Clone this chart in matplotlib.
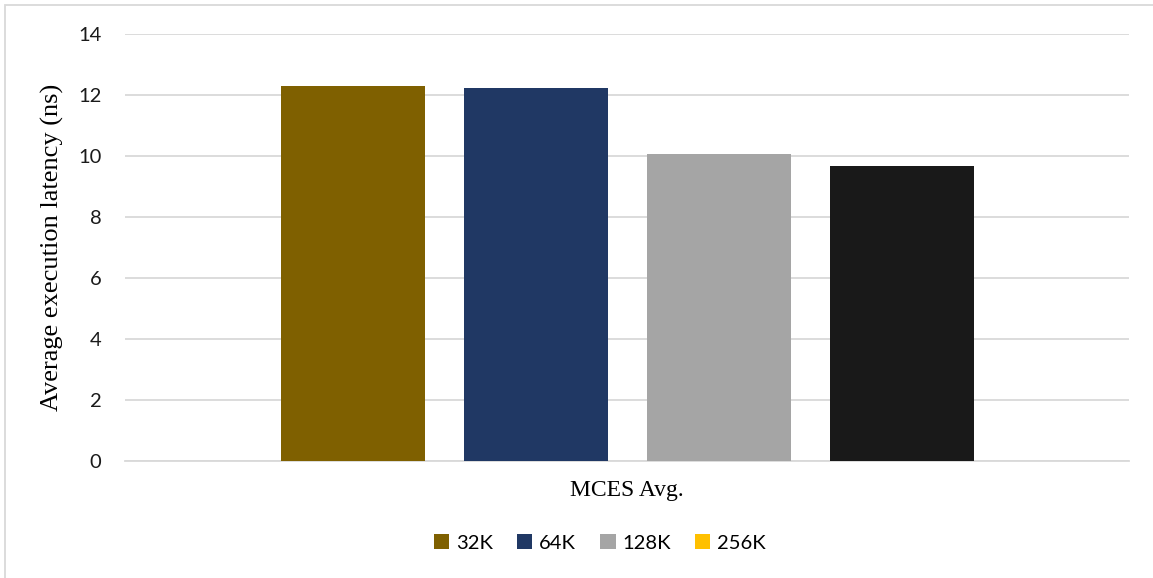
import matplotlib
matplotlib.use("Agg")
import matplotlib.pyplot as plt
from matplotlib.patches import Patch, Rectangle
import numpy as np

category = "MCES Avg."
series = ["32K", "64K", "128K", "256K"]
values = [12.30, 12.23, 10.07, 9.67]
bar_colors = ["#7f6000", "#203864", "#a5a5a5", "#191919"]
legend_colors = ["#7f6000", "#203864", "#a5a5a5", "#ffc000"]
yticks = [0, 2, 4, 6, 8, 10, 12, 14]

W, H = 1153, 578
fig = plt.figure(figsize=(W / 100, H / 100), dpi=100)
ax = fig.add_axes([125 / W, 1 - 461 / H, (1129 - 125) / W, (461 - 34) / H])

step = 183 / 1004
width = 144 / 1004
n = len(series)
offsets = (np.arange(n) - (n - 1) / 2) * step
for i in range(n):
    ax.bar(offsets[i], values[i], width=width, color=bar_colors[i], zorder=3)

ax.set_xlim(-0.5, 0.5)
ax.set_ylim(0, 14)
ax.set_yticks(yticks)
ax.set_yticklabels([str(t) for t in yticks], fontsize=14.5, family="Lato", color="#1a1a1a")
ax.set_xticks([0])
ax.set_xticklabels([category], fontsize=17, family="Liberation Serif")
ax.tick_params(axis="x", length=0, pad=14)
ax.tick_params(axis="y", length=0, pad=17)
ax.grid(axis="y", color="#d9d9d9", linewidth=1.3, zorder=0)
for s in ["top", "right", "left"]:
    ax.spines[s].set_visible(False)
ax.spines["bottom"].set_color("#d9d9d9")
ax.spines["bottom"].set_linewidth(1.3)
ax.set_ylabel("Average execution latency (ns)", fontsize=19, family="Liberation Serif", labelpad=10)

handles = [Patch(facecolor=c, edgecolor="none") for c in legend_colors]
fig.legend(handles, series, loc="center", bbox_to_anchor=(600 / W, 1 - 543 / H), ncol=4,
           frameon=False, prop={"family": "Lato", "size": 14.5}, handlelength=0.75, handleheight=0.75,
           handletextpad=0.35, columnspacing=1.2)

fig.patches.append(Rectangle((5 / W, -0.05), 1.1, 1 - 5 / H + 0.05, transform=fig.transFigure,
                             fill=False, edgecolor="#d9d9d9", linewidth=1.3))

fig.savefig("out.png", dpi=100)
